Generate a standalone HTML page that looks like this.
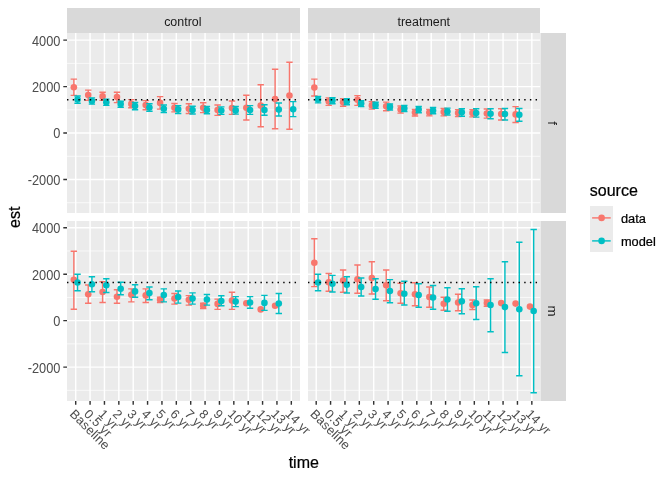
<!DOCTYPE html>
<html lang="en"><head><meta charset="utf-8"><title>est by time</title>
<style>html,body{margin:0;padding:0;background:#fff;}body{width:672px;height:480px;overflow:hidden;}svg{display:block;}text{font-family:"Liberation Sans",Arial,Helvetica,sans-serif;stroke-width:0.22px;paint-order:stroke;}text[fill="#000000"]{stroke:#000000;}</style>
</head><body>
<svg width="672" height="480" viewBox="0 0 672 480">
<rect x="0" y="0" width="672" height="480" fill="#FFFFFF"/>
<g>
<rect x="67" y="33" width="233" height="180" fill="#EBEBEB"/>
<path d="M67 63.38H300M67 109.83H300M67 156.28H300M67 202.73H300" stroke="#FFFFFF" stroke-width="0.71" fill="none"/>
<path d="M67 40.15H300M67 86.6H300M67 133.05H300M67 179.5H300M75.7 33V213M90.08 33V213M104.45 33V213M118.83 33V213M133.2 33V213M147.57 33V213M161.95 33V213M176.32 33V213M190.7 33V213M205.07 33V213M219.45 33V213M233.82 33V213M248.2 33V213M262.57 33V213M276.95 33V213M291.32 33V213" stroke="#FFFFFF" stroke-width="1.42" fill="none"/>
<path d="M70.65 79.1h6.4M70.65 95.4h6.4M73.85 79.1V95.4M85.03 90.1h6.4M85.03 100.4h6.4M88.23 90.1V100.4M99.4 92.25h6.4M99.4 100.4h6.4M102.6 92.25V100.4M113.78 92.25h6.4M113.78 102.6h6.4M116.98 92.25V102.6M128.15 99.6h6.4M128.15 107.75h6.4M131.35 99.6V107.75M142.53 100.6h6.4M142.53 109.75h6.4M145.72 100.6V109.75M156.9 96.6h6.4M156.9 109.1h6.4M160.1 96.6V109.1M171.28 103.5h6.4M171.28 111.9h6.4M174.47 103.5V111.9M185.65 103.75h6.4M185.65 113.5h6.4M188.85 103.75V113.5M200.03 102.7h6.4M200.03 112.6h6.4M203.22 102.7V112.6M214.4 105h6.4M214.4 115.4h6.4M217.6 105V115.4M228.78 101h6.4M228.78 114.4h6.4M231.97 101V114.4M243.15 95.25h6.4M243.15 120h6.4M246.35 95.25V120M257.52 84.7h6.4M257.52 126.7h6.4M260.72 84.7V126.7M271.9 69.3h6.4M271.9 128.75h6.4M275.1 69.3V128.75M286.27 62.2h6.4M286.27 129.3h6.4M289.47 62.2V129.3" stroke="#F8766D" stroke-width="1.42" fill="none"/>
<g fill="#F8766D"><circle cx="73.85" cy="87.25" r="3.3"/><circle cx="88.23" cy="95.1" r="3.3"/><circle cx="102.6" cy="96.4" r="3.3"/><circle cx="116.98" cy="97" r="3.3"/><circle cx="131.35" cy="103.9" r="3.3"/><circle cx="145.72" cy="105" r="3.3"/><circle cx="160.1" cy="102.9" r="3.3"/><circle cx="174.47" cy="107.75" r="3.3"/><circle cx="188.85" cy="108.75" r="3.3"/><circle cx="203.22" cy="107.75" r="3.3"/><circle cx="217.6" cy="110" r="3.3"/><circle cx="231.97" cy="108.1" r="3.3"/><circle cx="246.35" cy="107.75" r="3.3"/><circle cx="260.72" cy="105.6" r="3.3"/><circle cx="275.1" cy="99.1" r="3.3"/><circle cx="289.47" cy="95.6" r="3.3"/></g>
<path d="M74.35 96h6.4M74.35 103.25h6.4M77.55 96V103.25M88.72 97.9h6.4M88.72 104.1h6.4M91.92 97.9V104.1M103.1 99.1h6.4M103.1 105.4h6.4M106.3 99.1V105.4M117.47 101.25h6.4M117.47 107.25h6.4M120.67 101.25V107.25M131.85 102.5h6.4M131.85 109.75h6.4M135.05 102.5V109.75M146.22 103.75h6.4M146.22 111.25h6.4M149.42 103.75V111.25M160.6 105h6.4M160.6 112.5h6.4M163.8 105V112.5M174.97 105.6h6.4M174.97 113.5h6.4M178.17 105.6V113.5M189.35 106.25h6.4M189.35 114h6.4M192.55 106.25V114M203.72 106.5h6.4M203.72 113.75h6.4M206.92 106.5V113.75M218.1 106.9h6.4M218.1 114.4h6.4M221.3 106.9V114.4M232.47 106.5h6.4M232.47 114.1h6.4M235.67 106.5V114.1M246.85 105.6h6.4M246.85 114.4h6.4M250.05 105.6V114.4M261.23 104.75h6.4M261.23 115.3h6.4M264.43 104.75V115.3M275.6 103h6.4M275.6 116h6.4M278.8 103V116M289.98 101.6h6.4M289.98 116.6h6.4M293.18 101.6V116.6" stroke="#00BFC4" stroke-width="1.42" fill="none"/>
<g fill="#00BFC4"><circle cx="77.55" cy="99.5" r="3.3"/><circle cx="91.92" cy="101" r="3.3"/><circle cx="106.3" cy="102.25" r="3.3"/><circle cx="120.67" cy="104.1" r="3.3"/><circle cx="135.05" cy="106" r="3.3"/><circle cx="149.42" cy="107.5" r="3.3"/><circle cx="163.8" cy="108.75" r="3.3"/><circle cx="178.17" cy="109.4" r="3.3"/><circle cx="192.55" cy="110" r="3.3"/><circle cx="206.92" cy="110" r="3.3"/><circle cx="221.3" cy="110.6" r="3.3"/><circle cx="235.67" cy="110.4" r="3.3"/><circle cx="250.05" cy="110" r="3.3"/><circle cx="264.43" cy="110" r="3.3"/><circle cx="278.8" cy="109.6" r="3.3"/><circle cx="293.18" cy="109.25" r="3.3"/></g>
<path d="M67 99.75H300" stroke="#000000" stroke-width="1.42" stroke-dasharray="1.42 4.27" fill="none"/>
</g>
<g>
<rect x="308" y="33" width="233" height="180" fill="#EBEBEB"/>
<path d="M308 63.38H540.1M308 109.83H540.1M308 156.28H540.1M308 202.73H540.1" stroke="#FFFFFF" stroke-width="0.71" fill="none"/>
<path d="M308 40.15H540.1M308 86.6H540.1M308 133.05H540.1M308 179.5H540.1M316.2 33V213M330.57 33V213M344.95 33V213M359.32 33V213M373.7 33V213M388.07 33V213M402.45 33V213M416.82 33V213M431.2 33V213M445.57 33V213M459.95 33V213M474.32 33V213M488.7 33V213M503.07 33V213M517.45 33V213M531.83 33V213" stroke="#FFFFFF" stroke-width="1.42" fill="none"/>
<path d="M311.15 79.1h6.4M311.15 96h6.4M314.35 79.1V96M325.52 97.9h6.4M325.52 105.4h6.4M328.72 97.9V105.4M339.9 98.75h6.4M339.9 106.25h6.4M343.1 98.75V106.25M354.27 95.6h6.4M354.27 105.4h6.4M357.47 95.6V105.4M368.65 101.6h6.4M368.65 109.1h6.4M371.85 101.6V109.1M383.02 102.1h6.4M383.02 110.7h6.4M386.22 102.1V110.7M397.4 106h6.4M397.4 113.1h6.4M400.6 106V113.1M411.77 109.4h6.4M411.77 116h6.4M414.97 109.4V116M426.15 109.4h6.4M426.15 115.9h6.4M429.35 109.4V115.9M440.52 108.5h6.4M440.52 115.9h6.4M443.72 108.5V115.9M454.9 109.6h6.4M454.9 116.6h6.4M458.1 109.6V116.6M469.27 109.6h6.4M469.27 116.9h6.4M472.47 109.6V116.9M483.65 109h6.4M483.65 118.1h6.4M486.85 109V118.1M498.02 108.75h6.4M498.02 120h6.4M501.22 108.75V120M512.4 106.6h6.4M512.4 122.5h6.4M515.6 106.6V122.5" stroke="#F8766D" stroke-width="1.42" fill="none"/>
<g fill="#F8766D"><circle cx="314.35" cy="87.6" r="3.3"/><circle cx="328.72" cy="101.4" r="3.3"/><circle cx="343.1" cy="102.25" r="3.3"/><circle cx="357.47" cy="99.75" r="3.3"/><circle cx="371.85" cy="105.4" r="3.3"/><circle cx="386.22" cy="106.3" r="3.3"/><circle cx="400.6" cy="109.6" r="3.3"/><circle cx="414.97" cy="112.5" r="3.3"/><circle cx="429.35" cy="112.5" r="3.3"/><circle cx="443.72" cy="112.1" r="3.3"/><circle cx="458.1" cy="113.1" r="3.3"/><circle cx="472.47" cy="113.1" r="3.3"/><circle cx="486.85" cy="113.5" r="3.3"/><circle cx="501.22" cy="114" r="3.3"/><circle cx="515.6" cy="114.4" r="3.3"/></g>
<path d="M314.85 96.4h6.4M314.85 102.9h6.4M318.05 96.4V102.9M329.23 97.6h6.4M329.23 103.75h6.4M332.43 97.6V103.75M343.6 98.75h6.4M343.6 104.75h6.4M346.8 98.75V104.75M357.98 100.75h6.4M357.98 106.6h6.4M361.18 100.75V106.6M372.35 102.25h6.4M372.35 108.25h6.4M375.55 102.25V108.25M386.73 104h6.4M386.73 110h6.4M389.93 104V110M401.1 105.4h6.4M401.1 111.5h6.4M404.3 105.4V111.5M415.48 106.5h6.4M415.48 112.75h6.4M418.68 106.5V112.75M429.85 107.5h6.4M429.85 113.75h6.4M433.05 107.5V113.75M444.23 108.1h6.4M444.23 115h6.4M447.43 108.1V115M458.6 108.75h6.4M458.6 116.25h6.4M461.8 108.75V116.25M472.98 108.75h6.4M472.98 117.1h6.4M476.18 108.75V117.1M487.35 108.75h6.4M487.35 118.75h6.4M490.55 108.75V118.75M501.73 108.5h6.4M501.73 120h6.4M504.93 108.5V120M516.1 108.5h6.4M516.1 121.25h6.4M519.3 108.5V121.25" stroke="#00BFC4" stroke-width="1.42" fill="none"/>
<g fill="#00BFC4"><circle cx="318.05" cy="99.5" r="3.3"/><circle cx="332.43" cy="100.6" r="3.3"/><circle cx="346.8" cy="101.6" r="3.3"/><circle cx="361.18" cy="103.5" r="3.3"/><circle cx="375.55" cy="105.1" r="3.3"/><circle cx="389.93" cy="106.9" r="3.3"/><circle cx="404.3" cy="108.4" r="3.3"/><circle cx="418.68" cy="109.6" r="3.3"/><circle cx="433.05" cy="110.6" r="3.3"/><circle cx="447.43" cy="111.5" r="3.3"/><circle cx="461.8" cy="112.25" r="3.3"/><circle cx="476.18" cy="113.1" r="3.3"/><circle cx="490.55" cy="113.75" r="3.3"/><circle cx="504.93" cy="114" r="3.3"/><circle cx="519.3" cy="114.75" r="3.3"/></g>
<path d="M308 99.75H540.1" stroke="#000000" stroke-width="1.42" stroke-dasharray="1.42 4.27" fill="none"/>
</g>
<g>
<rect x="67" y="221" width="233" height="180" fill="#EBEBEB"/>
<path d="M67 250.97H300M67 297.42H300M67 343.88H300M67 390.32H300" stroke="#FFFFFF" stroke-width="0.71" fill="none"/>
<path d="M67 227.75H300M67 274.2H300M67 320.65H300M67 367.1H300M75.7 221V401M90.08 221V401M104.45 221V401M118.83 221V401M133.2 221V401M147.57 221V401M161.95 221V401M176.32 221V401M190.7 221V401M205.07 221V401M219.45 221V401M233.82 221V401M248.2 221V401M262.57 221V401M276.95 221V401M291.32 221V401" stroke="#FFFFFF" stroke-width="1.42" fill="none"/>
<path d="M70.65 251.2h6.4M70.65 309.2h6.4M73.85 251.2V309.2M85.03 285h6.4M85.03 303.3h6.4M88.23 285V303.3M99.4 281.7h6.4M99.4 302.5h6.4M102.6 281.7V302.5M113.78 289.7h6.4M113.78 303.3h6.4M116.98 289.7V303.3M128.15 288.9h6.4M128.15 301.9h6.4M131.35 288.9V301.9M142.53 288.9h6.4M142.53 302.5h6.4M145.72 288.9V302.5M156.9 297.25h6.4M156.9 302.6h6.4M160.1 297.25V302.6M171.28 293.5h6.4M171.28 304.1h6.4M174.47 293.5V304.1M185.65 295.6h6.4M185.65 305.1h6.4M188.85 295.6V305.1M200.03 303.25h6.4M200.03 308.5h6.4M203.22 303.25V308.5M214.4 299.1h6.4M214.4 309.4h6.4M217.6 299.1V309.4M228.78 292.25h6.4M228.78 309.4h6.4M231.97 292.25V309.4" stroke="#F8766D" stroke-width="1.42" fill="none"/>
<g fill="#F8766D"><circle cx="73.85" cy="279.7" r="3.3"/><circle cx="88.23" cy="294.2" r="3.3"/><circle cx="102.6" cy="292" r="3.3"/><circle cx="116.98" cy="296.7" r="3.3"/><circle cx="131.35" cy="294.75" r="3.3"/><circle cx="145.72" cy="295.4" r="3.3"/><circle cx="160.1" cy="299.75" r="3.3"/><circle cx="174.47" cy="298.5" r="3.3"/><circle cx="188.85" cy="299.75" r="3.3"/><circle cx="203.22" cy="305.75" r="3.3"/><circle cx="217.6" cy="303.9" r="3.3"/><circle cx="231.97" cy="300.6" r="3.3"/><circle cx="246.35" cy="303.25" r="3.3"/><circle cx="260.72" cy="309.4" r="3.3"/><circle cx="275.1" cy="305.75" r="3.3"/></g>
<path d="M74.35 274.2h6.4M74.35 290.8h6.4M77.55 274.2V290.8M88.72 276.7h6.4M88.72 291.7h6.4M91.92 276.7V291.7M103.1 278.8h6.4M103.1 292.5h6.4M106.3 278.8V292.5M117.47 282.2h6.4M117.47 294.7h6.4M120.67 282.2V294.7M131.85 284.75h6.4M131.85 297.25h6.4M135.05 284.75V297.25M146.22 287h6.4M146.22 299.75h6.4M149.42 287V299.75M160.6 288.9h6.4M160.6 301.9h6.4M163.8 288.9V301.9M174.97 291h6.4M174.97 303.1h6.4M178.17 291V303.1M189.35 292.9h6.4M189.35 304.1h6.4M192.55 292.9V304.1M203.72 294.5h6.4M203.72 305.1h6.4M206.92 294.5V305.1M218.1 295.75h6.4M218.1 305.75h6.4M221.3 295.75V305.75M232.47 296.6h6.4M232.47 306.6h6.4M235.67 296.6V306.6M246.85 296.6h6.4M246.85 308.25h6.4M250.05 296.6V308.25M261.23 295.4h6.4M261.23 310.4h6.4M264.43 295.4V310.4M275.6 293.5h6.4M275.6 313.5h6.4M278.8 293.5V313.5" stroke="#00BFC4" stroke-width="1.42" fill="none"/>
<g fill="#00BFC4"><circle cx="77.55" cy="282.5" r="3.3"/><circle cx="91.92" cy="284.2" r="3.3"/><circle cx="106.3" cy="285.3" r="3.3"/><circle cx="120.67" cy="288.7" r="3.3"/><circle cx="135.05" cy="291.4" r="3.3"/><circle cx="149.42" cy="293.1" r="3.3"/><circle cx="163.8" cy="295" r="3.3"/><circle cx="178.17" cy="297" r="3.3"/><circle cx="192.55" cy="298.5" r="3.3"/><circle cx="206.92" cy="299.5" r="3.3"/><circle cx="221.3" cy="301" r="3.3"/><circle cx="235.67" cy="301.6" r="3.3"/><circle cx="250.05" cy="302.5" r="3.3"/><circle cx="264.43" cy="302.9" r="3.3"/><circle cx="278.8" cy="303.5" r="3.3"/></g>
<path d="M67 282.45H300" stroke="#000000" stroke-width="1.42" stroke-dasharray="1.42 4.27" fill="none"/>
</g>
<g>
<rect x="308" y="221" width="233" height="180" fill="#EBEBEB"/>
<path d="M308 250.97H540.1M308 297.42H540.1M308 343.88H540.1M308 390.32H540.1" stroke="#FFFFFF" stroke-width="0.71" fill="none"/>
<path d="M308 227.75H540.1M308 274.2H540.1M308 320.65H540.1M308 367.1H540.1M316.2 221V401M330.57 221V401M344.95 221V401M359.32 221V401M373.7 221V401M388.07 221V401M402.45 221V401M416.82 221V401M431.2 221V401M445.57 221V401M459.95 221V401M474.32 221V401M488.7 221V401M503.07 221V401M517.45 221V401M531.83 221V401" stroke="#FFFFFF" stroke-width="1.42" fill="none"/>
<path d="M311.15 238.8h6.4M311.15 286.6h6.4M314.35 238.8V286.6M325.52 273.5h6.4M325.52 291.2h6.4M328.72 273.5V291.2M339.9 270h6.4M339.9 292.2h6.4M343.1 270V292.2M354.27 265h6.4M354.27 293.2h6.4M357.47 265V293.2M368.65 261.7h6.4M368.65 294h6.4M371.85 261.7V294M383.02 270h6.4M383.02 300.8h6.4M386.22 270V300.8M397.4 283.3h6.4M397.4 303.3h6.4M400.6 283.3V303.3M411.77 282.8h6.4M411.77 305.8h6.4M414.97 282.8V305.8M426.15 287h6.4M426.15 307.2h6.4M429.35 287V307.2M440.52 297.2h6.4M440.52 310.3h6.4M443.72 297.2V310.3M454.9 294.2h6.4M454.9 310.8h6.4M458.1 294.2V310.8M469.27 300h6.4M469.27 309.5h6.4M472.47 300V309.5M483.65 300h6.4M483.65 306.2h6.4M486.85 300V306.2" stroke="#F8766D" stroke-width="1.42" fill="none"/>
<g fill="#F8766D"><circle cx="314.35" cy="262.8" r="3.3"/><circle cx="328.72" cy="282.2" r="3.3"/><circle cx="343.1" cy="280.5" r="3.3"/><circle cx="357.47" cy="279.2" r="3.3"/><circle cx="371.85" cy="278" r="3.3"/><circle cx="386.22" cy="285.2" r="3.3"/><circle cx="400.6" cy="293.3" r="3.3"/><circle cx="414.97" cy="294.2" r="3.3"/><circle cx="429.35" cy="297" r="3.3"/><circle cx="443.72" cy="303.7" r="3.3"/><circle cx="458.1" cy="302.5" r="3.3"/><circle cx="472.47" cy="305" r="3.3"/><circle cx="486.85" cy="303" r="3.3"/><circle cx="501.22" cy="303.1" r="3.3"/><circle cx="515.6" cy="303.6" r="3.3"/><circle cx="529.98" cy="306.6" r="3.3"/></g>
<path d="M314.85 274.2h6.4M314.85 290.8h6.4M318.05 274.2V290.8M329.23 275.4h6.4M329.23 292h6.4M332.43 275.4V292M343.6 276.7h6.4M343.6 293h6.4M346.8 276.7V293M357.98 278h6.4M357.98 296h6.4M361.18 278V296M372.35 278.8h6.4M372.35 299.3h6.4M375.55 278.8V299.3M386.73 279.6h6.4M386.73 302.8h6.4M389.93 279.6V302.8M401.1 281.3h6.4M401.1 305h6.4M404.3 281.3V305M415.48 283.7h6.4M415.48 307.2h6.4M418.68 283.7V307.2M429.85 285.5h6.4M429.85 309.2h6.4M433.05 285.5V309.2M444.23 287.8h6.4M444.23 311.2h6.4M447.43 287.8V311.2M458.6 288.8h6.4M458.6 313.8h6.4M461.8 288.8V313.8M472.98 286.7h6.4M472.98 319.5h6.4M476.18 286.7V319.5M487.35 278.8h6.4M487.35 331.7h6.4M490.55 278.8V331.7M501.73 261.7h6.4M501.73 352.5h6.4M504.93 261.7V352.5M516.1 242.2h6.4M516.1 375.8h6.4M519.3 242.2V375.8M530.48 229.5h6.4M530.48 392.8h6.4M533.68 229.5V392.8" stroke="#00BFC4" stroke-width="1.42" fill="none"/>
<g fill="#00BFC4"><circle cx="318.05" cy="282.5" r="3.3"/><circle cx="332.43" cy="283.7" r="3.3"/><circle cx="346.8" cy="284.8" r="3.3"/><circle cx="361.18" cy="287" r="3.3"/><circle cx="375.55" cy="289.1" r="3.3"/><circle cx="389.93" cy="291" r="3.3"/><circle cx="404.3" cy="293.7" r="3.3"/><circle cx="418.68" cy="295" r="3.3"/><circle cx="433.05" cy="297.5" r="3.3"/><circle cx="447.43" cy="299.5" r="3.3"/><circle cx="461.8" cy="301.3" r="3.3"/><circle cx="476.18" cy="303.3" r="3.3"/><circle cx="490.55" cy="305" r="3.3"/><circle cx="504.93" cy="307.1" r="3.3"/><circle cx="519.3" cy="309.2" r="3.3"/><circle cx="533.68" cy="311" r="3.3"/></g>
<path d="M308 282.45H540.1" stroke="#000000" stroke-width="1.42" stroke-dasharray="1.42 4.27" fill="none"/>
</g>
<rect x="67" y="8" width="233" height="25" fill="#D9D9D9"/>
<text x="182.8" y="25.9" font-size="12.45" fill="#1A1A1A" text-anchor="middle">control</text>
<rect x="308" y="8" width="232" height="25" fill="#D9D9D9"/>
<text x="423.8" y="25.9" font-size="12.45" fill="#1A1A1A" text-anchor="middle">treatment</text>
<rect x="541" y="33" width="25" height="180" fill="#D9D9D9"/>
<text transform="translate(548.4 123) rotate(90)" font-size="13.4" fill="#1A1A1A" text-anchor="middle">f</text>
<rect x="541" y="221" width="25" height="180" fill="#D9D9D9"/>
<text transform="translate(548.4 311) rotate(90)" font-size="13.4" fill="#1A1A1A" text-anchor="middle">m</text>
<text transform="translate(60.4 45.55) scale(1 1.08)" font-size="12.8" fill="#4D4D4D" text-anchor="end">4000</text>
<text transform="translate(60.4 92) scale(1 1.08)" font-size="12.8" fill="#4D4D4D" text-anchor="end">2000</text>
<text transform="translate(60.4 138.45) scale(1 1.08)" font-size="12.8" fill="#4D4D4D" text-anchor="end">0</text>
<text transform="translate(60.4 184.9) scale(1 1.08)" font-size="12.8" fill="#4D4D4D" text-anchor="end">-2000</text>
<path d="M63.3 40.15H67M63.3 86.6H67M63.3 133.05H67M63.3 179.5H67" stroke="#333333" stroke-width="1.42" fill="none"/>
<text transform="translate(60.4 233.15) scale(1 1.08)" font-size="12.8" fill="#4D4D4D" text-anchor="end">4000</text>
<text transform="translate(60.4 279.6) scale(1 1.08)" font-size="12.8" fill="#4D4D4D" text-anchor="end">2000</text>
<text transform="translate(60.4 326.05) scale(1 1.08)" font-size="12.8" fill="#4D4D4D" text-anchor="end">0</text>
<text transform="translate(60.4 372.5) scale(1 1.08)" font-size="12.8" fill="#4D4D4D" text-anchor="end">-2000</text>
<path d="M63.3 227.75H67M63.3 274.2H67M63.3 320.65H67M63.3 367.1H67" stroke="#333333" stroke-width="1.42" fill="none"/>
<text transform="translate(74.9 408.7) rotate(45)" x="0" y="8.4" font-size="12.8" letter-spacing="0.2" fill="#4D4D4D">Baseline</text>
<text transform="translate(89.28 408.7) rotate(45)" x="0" y="8.4" font-size="12.8" letter-spacing="0.2" fill="#4D4D4D">0.5 yr</text>
<text transform="translate(103.65 408.7) rotate(45)" x="0" y="8.4" font-size="12.8" letter-spacing="0.2" fill="#4D4D4D">1 yr</text>
<text transform="translate(118.03 408.7) rotate(45)" x="0" y="8.4" font-size="12.8" letter-spacing="0.2" fill="#4D4D4D">2 yr</text>
<text transform="translate(132.4 408.7) rotate(45)" x="0" y="8.4" font-size="12.8" letter-spacing="0.2" fill="#4D4D4D">3 yr</text>
<text transform="translate(146.77 408.7) rotate(45)" x="0" y="8.4" font-size="12.8" letter-spacing="0.2" fill="#4D4D4D">4 yr</text>
<text transform="translate(161.15 408.7) rotate(45)" x="0" y="8.4" font-size="12.8" letter-spacing="0.2" fill="#4D4D4D">5 yr</text>
<text transform="translate(175.52 408.7) rotate(45)" x="0" y="8.4" font-size="12.8" letter-spacing="0.2" fill="#4D4D4D">6 yr</text>
<text transform="translate(189.9 408.7) rotate(45)" x="0" y="8.4" font-size="12.8" letter-spacing="0.2" fill="#4D4D4D">7 yr</text>
<text transform="translate(204.27 408.7) rotate(45)" x="0" y="8.4" font-size="12.8" letter-spacing="0.2" fill="#4D4D4D">8 yr</text>
<text transform="translate(218.65 408.7) rotate(45)" x="0" y="8.4" font-size="12.8" letter-spacing="0.2" fill="#4D4D4D">9 yr</text>
<text transform="translate(233.02 408.7) rotate(45)" x="0" y="8.4" font-size="12.8" letter-spacing="0.2" fill="#4D4D4D">10 yr</text>
<text transform="translate(247.4 408.7) rotate(45)" x="0" y="8.4" font-size="12.8" letter-spacing="0.2" fill="#4D4D4D">11 yr</text>
<text transform="translate(261.77 408.7) rotate(45)" x="0" y="8.4" font-size="12.8" letter-spacing="0.2" fill="#4D4D4D">12 yr</text>
<text transform="translate(276.15 408.7) rotate(45)" x="0" y="8.4" font-size="12.8" letter-spacing="0.2" fill="#4D4D4D">13 yr</text>
<text transform="translate(290.52 408.7) rotate(45)" x="0" y="8.4" font-size="12.8" letter-spacing="0.2" fill="#4D4D4D">14 yr</text>
<path d="M75.7 401v3.67M90.08 401v3.67M104.45 401v3.67M118.83 401v3.67M133.2 401v3.67M147.57 401v3.67M161.95 401v3.67M176.32 401v3.67M190.7 401v3.67M205.07 401v3.67M219.45 401v3.67M233.82 401v3.67M248.2 401v3.67M262.57 401v3.67M276.95 401v3.67M291.32 401v3.67" stroke="#333333" stroke-width="1.42" fill="none"/>
<text transform="translate(315.4 408.7) rotate(45)" x="0" y="8.4" font-size="12.8" letter-spacing="0.2" fill="#4D4D4D">Baseline</text>
<text transform="translate(329.77 408.7) rotate(45)" x="0" y="8.4" font-size="12.8" letter-spacing="0.2" fill="#4D4D4D">0.5 yr</text>
<text transform="translate(344.15 408.7) rotate(45)" x="0" y="8.4" font-size="12.8" letter-spacing="0.2" fill="#4D4D4D">1 yr</text>
<text transform="translate(358.52 408.7) rotate(45)" x="0" y="8.4" font-size="12.8" letter-spacing="0.2" fill="#4D4D4D">2 yr</text>
<text transform="translate(372.9 408.7) rotate(45)" x="0" y="8.4" font-size="12.8" letter-spacing="0.2" fill="#4D4D4D">3 yr</text>
<text transform="translate(387.27 408.7) rotate(45)" x="0" y="8.4" font-size="12.8" letter-spacing="0.2" fill="#4D4D4D">4 yr</text>
<text transform="translate(401.65 408.7) rotate(45)" x="0" y="8.4" font-size="12.8" letter-spacing="0.2" fill="#4D4D4D">5 yr</text>
<text transform="translate(416.02 408.7) rotate(45)" x="0" y="8.4" font-size="12.8" letter-spacing="0.2" fill="#4D4D4D">6 yr</text>
<text transform="translate(430.4 408.7) rotate(45)" x="0" y="8.4" font-size="12.8" letter-spacing="0.2" fill="#4D4D4D">7 yr</text>
<text transform="translate(444.77 408.7) rotate(45)" x="0" y="8.4" font-size="12.8" letter-spacing="0.2" fill="#4D4D4D">8 yr</text>
<text transform="translate(459.15 408.7) rotate(45)" x="0" y="8.4" font-size="12.8" letter-spacing="0.2" fill="#4D4D4D">9 yr</text>
<text transform="translate(473.52 408.7) rotate(45)" x="0" y="8.4" font-size="12.8" letter-spacing="0.2" fill="#4D4D4D">10 yr</text>
<text transform="translate(487.9 408.7) rotate(45)" x="0" y="8.4" font-size="12.8" letter-spacing="0.2" fill="#4D4D4D">11 yr</text>
<text transform="translate(502.27 408.7) rotate(45)" x="0" y="8.4" font-size="12.8" letter-spacing="0.2" fill="#4D4D4D">12 yr</text>
<text transform="translate(516.65 408.7) rotate(45)" x="0" y="8.4" font-size="12.8" letter-spacing="0.2" fill="#4D4D4D">13 yr</text>
<text transform="translate(531.03 408.7) rotate(45)" x="0" y="8.4" font-size="12.8" letter-spacing="0.2" fill="#4D4D4D">14 yr</text>
<path d="M316.2 401v3.67M330.57 401v3.67M344.95 401v3.67M359.32 401v3.67M373.7 401v3.67M388.07 401v3.67M402.45 401v3.67M416.82 401v3.67M431.2 401v3.67M445.57 401v3.67M459.95 401v3.67M474.32 401v3.67M488.7 401v3.67M503.07 401v3.67M517.45 401v3.67M531.83 401v3.67" stroke="#333333" stroke-width="1.42" fill="none"/>
<text x="303.8" y="467.5" font-size="16" fill="#000000" text-anchor="middle">time</text>
<text transform="translate(19.9 217.3) rotate(-90)" font-size="16" fill="#000000" text-anchor="middle">est</text>
<text x="589.8" y="195.5" font-size="16" fill="#000000">source</text>
<rect x="590" y="206" width="23" height="23" fill="#EBEBEB"/>
<path d="M592.1 217.9H610.7" stroke="#F8766D" stroke-width="1.42" fill="none"/>
<circle cx="601.6" cy="217.9" r="3.3" fill="#F8766D"/>
<text transform="translate(620.9 222.8) scale(1 1.07)" font-size="12.8" fill="#000000">data</text>
<rect x="590" y="229" width="23" height="23" fill="#EBEBEB"/>
<path d="M592.1 240.9H610.7" stroke="#00BFC4" stroke-width="1.42" fill="none"/>
<circle cx="601.6" cy="240.9" r="3.3" fill="#00BFC4"/>
<text transform="translate(620.9 245.8) scale(1 1.07)" font-size="12.8" fill="#000000">model</text>
</svg>
</body></html>
